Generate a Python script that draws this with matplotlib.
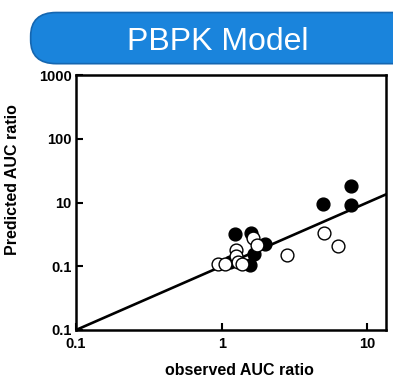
import numpy as np
import matplotlib
matplotlib.use('Agg')
import matplotlib.pyplot as plt
from matplotlib.patches import FancyBboxPatch

# observed vs predicted AUC ratio
obs_filled = [1.24, 1.59, 1.97, 1.67, 1.56, 1.14, 4.92, 7.74, 7.74]
pred_filled = [3.16, 3.31, 2.21, 1.58, 1.06, 1.15, 9.55, 18.0, 8.98]
obs_open = [1.63, 1.74, 1.26, 1.26, 1.30, 0.94, 1.05, 1.37, 5.05, 6.25, 2.81]
pred_open = [2.81, 2.13, 1.82, 1.43, 1.17, 1.07, 1.07, 1.10, 3.31, 2.05, 1.49]

xticks = [0.1, 1, 10]
xticklabels = ['0.1', '1', '10']
yticks = [0.1, 1, 10, 100, 1000]
yticklabels = ['0.1', '0.1', '10', '100', '1000']

fig = plt.figure(figsize=(3.93, 3.79), dpi=100)

# title banner
box = FancyBboxPatch((0.078, 0.832), 1.0, 0.135, transform=fig.transFigure,
                     boxstyle='round,pad=0,rounding_size=0.065',
                     facecolor='#1a84dc', edgecolor='#1566b0', lw=1.2,
                     mutation_aspect=0.96)
fig.patches.append(box)
fig.text(0.553, 0.889, 'PBPK Model', color='white', fontsize=23,
         ha='center', va='center', family='Liberation Sans')

ax = fig.add_axes([0.1934, 0.1293, 0.7886, 0.6727])
ax.set_xscale('log')
ax.set_yscale('log')
ax.set_xlim(0.1, 13.4)
ax.set_ylim(0.1, 1000)

xx = np.array([0.1, 13.4])
ax.plot(xx, xx, 'k-', lw=1.9, zorder=2)

ax.scatter(obs_filled, pred_filled, s=85, c='black', edgecolors='black',
           linewidths=1.0, zorder=3)
ax.scatter(obs_open, pred_open, s=85, c='white', edgecolors='black',
           linewidths=1.0, zorder=4)

ax.set_xticks(xticks)
ax.set_xticklabels(xticklabels)
ax.set_yticks(yticks)
ax.set_yticklabels(yticklabels)
ax.minorticks_off()
ax.tick_params(direction='in', length=5, width=1.5)
ax.tick_params(axis='x', pad=5)
ax.tick_params(axis='y', pad=3)
for lab in ax.get_xticklabels() + ax.get_yticklabels():
    lab.set_fontweight('bold')
    lab.set_fontsize(10.5)
    lab.set_family('Liberation Sans')
for sp in ax.spines.values():
    sp.set_linewidth(1.8)

ax.set_ylabel('Predicted AUC ratio', fontsize=11.5, fontweight='bold',
              family='Liberation Sans')
ax.yaxis.set_label_coords(-0.18, 0.592)
fig.text(0.608, 0.042, 'observed AUC ratio', fontsize=11.5, fontweight='bold',
         ha='center', va='top', family='Liberation Sans')

plt.savefig('out.png', dpi=100)
